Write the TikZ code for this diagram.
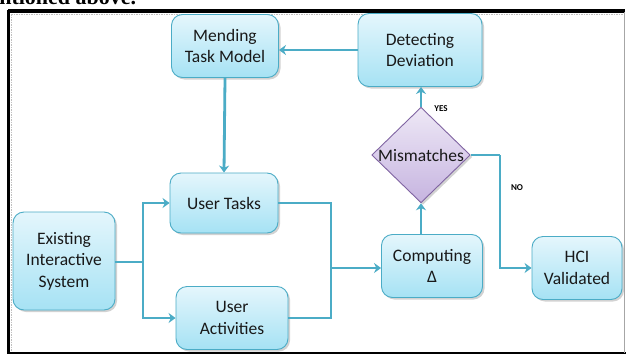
\documentclass[tikz,border=0pt]{standalone}
\usepackage{fontspec}
\setmainfont{Carlito}
\newfontfamily\serifbold{Liberation Serif}
\usetikzlibrary{shapes.geometric,arrows.meta,shadows}
\definecolor{edge}{HTML}{4BACC6}
\definecolor{boxtop}{HTML}{E4F6FC}
\definecolor{boxbot}{HTML}{A6E2F4}
\definecolor{dtop}{HTML}{EEE8F6}
\definecolor{dbot}{HTML}{C6B4E0}
\definecolor{dedge}{HTML}{8064A2}
\tikzset{
  procbox/.style={rectangle, rounded corners=11pt, draw=edge, line width=0.9pt,
    top color=boxtop, bottom color=boxbot, align=center,
    font=\fontsize{17.5}{21.5}\selectfont, inner sep=0pt, text=black!90,
    drop shadow={shadow xshift=2pt, shadow yshift=-2pt, opacity=0.35}},
  decide/.style={diamond, draw=dedge, line width=0.9pt, top color=dtop, bottom color=dbot,
    font=\fontsize{17.5}{21}\selectfont, inner sep=0pt, aspect=1.03, text=black!90,
    drop shadow={shadow xshift=2pt, shadow yshift=-2pt, opacity=0.35}},
  conn/.style={draw=edge, line width=2.8pt},
  arr/.style={conn, -{Stealth[length=7pt,width=10pt]}},
  lab/.style={font=\fontsize{9}{10}\selectfont\bfseries, inner sep=0pt}
}
\begin{document}
\begin{tikzpicture}[x=1pt,y=-1pt]
\useasboundingbox (0,0) rectangle (626,356);
% cropped caption text at top
\node[anchor=base west, inner sep=0pt, font=\serifbold\fontsize{22}{24}\selectfont\bfseries] (cap) at (-29,5) {mentioned above.};
% frame
\fill[white] (9,13) rectangle (624,353);
\draw[line width=3.5pt] (8,11) -- (625,11);
\draw[line width=3pt] (8,10) -- (8,354);
\draw[line width=2pt] (7,353) -- (626,353);
\draw[gray!70, line width=1pt] (624.5,12) -- (624.5,353);
\draw[gray!50, line width=1.5pt, densely dotted] (11,14.5) -- (623,14.5);
\draw[gray!50, line width=1.5pt, densely dotted] (11.5,14) -- (11.5,351);

\coordinate (split) at (143,262);
\coordinate (merge) at (331,268);
\coordinate (nocorner) at (500,155);

\node[procbox, minimum width=107pt, minimum height=63pt] (mend) at (225,46) {Mending\\Task Model};
\node[procbox, minimum width=124pt, minimum height=73pt] (detect) at (420,50) {Detecting\\Deviation};
\node[procbox, minimum width=108pt, minimum height=60pt] (tasks) at (224,203) {User Tasks};
\node[procbox, minimum width=102pt, minimum height=98pt] (exist) at (64,261) {Existing\\Interactive\\System};
\node[procbox, minimum width=112pt, minimum height=63pt] (act) at (232,318) {User\\Activities};
\node[procbox, minimum width=101pt, minimum height=63pt] (comp) at (432,266) {Computing\\Δ};
\node[procbox, minimum width=90pt, minimum height=63pt] (hci) at (577,268) {HCI\\Validated};
\node[decide, minimum width=88pt, minimum height=85pt] (mis) at (421,155) {Mismatches};

\draw[arr] (detect.west) -- (detect.west -| mend.east);
\draw[arr] (mend.south) -- (tasks.north);
\draw[conn] (exist.east |- split) -- (split);
\draw[arr] (split) |- (tasks.west);
\draw[arr] (split) |- (act.west);
\draw[conn] (tasks.east) -| (merge);
\draw[conn] (act.east) -| (merge);
\draw[arr] (merge) -- (merge -| comp.west);
\draw[arr] (mis.south |- comp.north) -- (mis.south);
\draw[arr] (mis.north) -- (mis.north |- detect.south);
\draw[conn] (mis.east) -- (nocorner);
\draw[arr] (nocorner) |- (hci.west);

\node[lab] (yes) at (441,109) {YES};
\node[lab] (no) at (517,188) {NO};
\end{tikzpicture}
\end{document}
